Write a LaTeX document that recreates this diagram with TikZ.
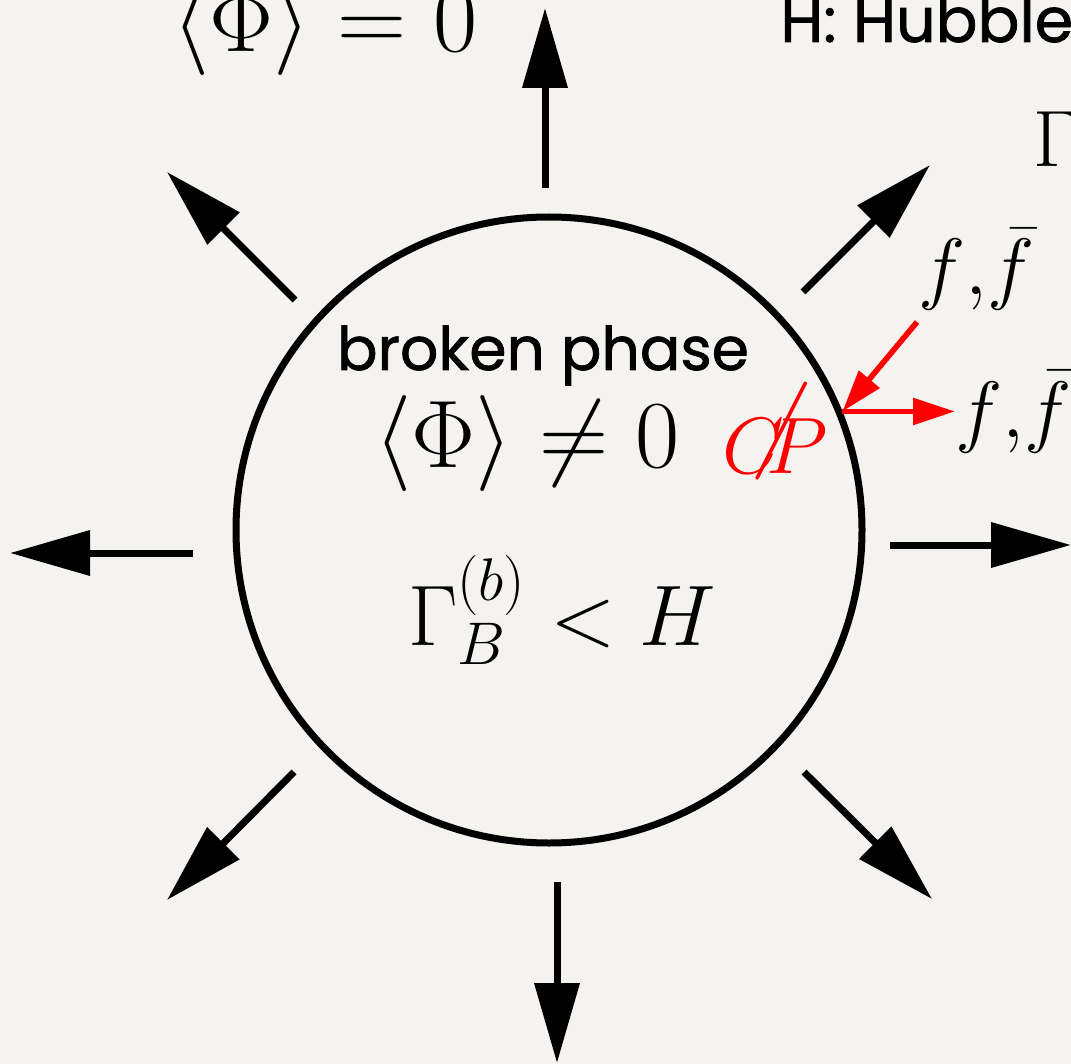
\documentclass[tikz,border=0pt]{standalone}
\usepackage{fix-cm}
\usepackage{mathtools}
\usepackage{fontspec}
\newfontfamily\handfont{Poppins}[FakeBold=1.2]
\usetikzlibrary{arrows.meta, positioning}
\definecolor{paper}{RGB}{245,243,239}
\newcommand{\cpslash}{\mathclap{\raisebox{8pt}{\scalebox{1.3}{\rotatebox[origin=c]{-8}{$/$}}}}}
\tikzset{
  flow/.style={line width=3.5pt, -{Triangle[length=40pt,width=22pt]}}, % expanding wall
  decay/.style={red, line width=2.8pt, -{Triangle[length=21pt,width=13pt]}},
  bigmath/.style={font=\fontsize{48}{56}\selectfont, inner sep=0pt},
  midmath/.style={font=\fontsize{40}{48}\selectfont, inner sep=0pt},
  handtext/.style={font=\handfont\fontsize{30}{36}\selectfont, inner sep=0pt},
}

\begin{document}
\begin{tikzpicture}[x=0.5pt, y=-0.5pt]
  \fill[paper] (0,0) rectangle (1071,1064);
  \clip (0,0) rectangle (1071,1064);

  % the bubble of broken phase
  \node[draw, circle, line width=3.5pt, minimum size=313pt] (bubble) at (549,530) {};

  \node[handtext, anchor=base] (phase) at (543,370) {broken phase};
  \node[bigmath, anchor=base] (vev) at (527,467) {$\langle\Phi\rangle \neq 0$};
  \node[midmath, font=\fontsize{43}{50}\selectfont, anchor=base] (rate) at (562,645) {$\Gamma_B^{(b)} < H$};
  \node[midmath, red, anchor=base west] (cp) at (722,473) {$C\mkern-0.5mu\cpslash\mkern-3.5mu P$};

  % outside
  \node[bigmath, anchor=base] (vevzero) at (325,52) {$\langle\Phi\rangle = 0$};
  \node[handtext, font=\handfont\fontsize{31}{38}\selectfont, anchor=base west] (hubble) at (780,42) {H: Hubble};
  \node[midmath, anchor=base west] (gam) at (1033,167) {$\Gamma$};
  \node[midmath, anchor=base west] (ffin) at (918,295) {$f{,}\bar f$};
  \node[midmath, anchor=base west] (ffout) at (955,437) {$f{,}\bar f$};

  % arrows of the expansion
  \coordinate (up0) at (545,188);    \coordinate (up1) at (545,8);
  \coordinate (dn0) at (557,882);    \coordinate (dn1) at (557,1063);
  \coordinate (lf0) at (193,553);    \coordinate (lf1) at (10,553);
  \coordinate (rt0) at (890,545);    \coordinate (rt1) at (1071,545);
  \coordinate (ne0) at (803,292);    \coordinate (ne1) at (930,165);
  \coordinate (nw0) at (295,300);    \coordinate (nw1) at (167,172);
  \coordinate (sw0) at (294,772);    \coordinate (sw1) at (167,900);
  \coordinate (se0) at (804,772);    \coordinate (se1) at (932,899);
  \draw[flow] (up0) -- (up1);
  \draw[flow] (dn0) -- (dn1);
  \draw[flow] (lf0) -- (lf1);
  \draw[flow] (rt0) -- (rt1);
  \draw[flow] (ne0) -- (ne1);
  \draw[flow] (nw0) -- (nw1);
  \draw[flow] (sw0) -- (sw1);
  \draw[flow] (se0) -- (se1);

  % scattering off the wall
  \coordinate (wall) at (bubble.22);
  \coordinate (src) at (917,322);
  \draw[decay] (src) -- (wall);
  \draw[decay] (wall) -- (wall -| ffout.west);
\end{tikzpicture}
\end{document}
